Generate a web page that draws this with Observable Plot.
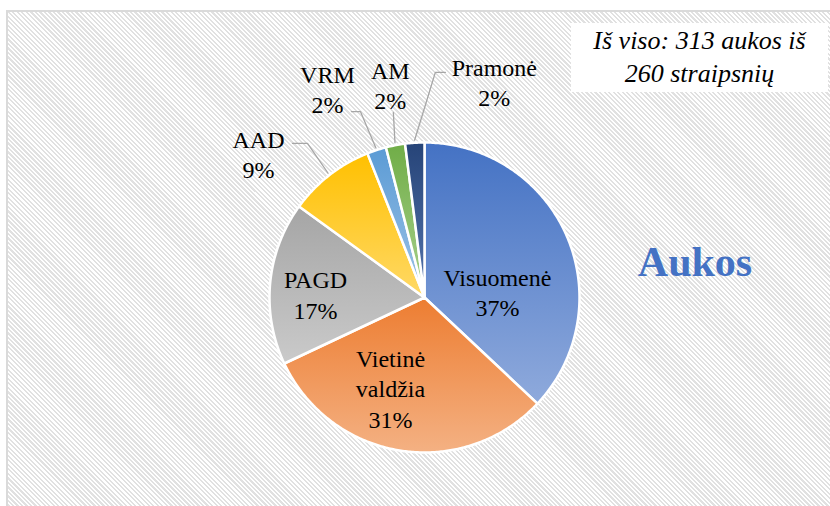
<!DOCTYPE html>
<html>
<head>
<meta charset="utf-8">
<script src="https://cdn.jsdelivr.net/npm/d3@7"></script>
<script src="https://cdn.jsdelivr.net/npm/@observablehq/plot@0.6"></script>
<style>
html,body{margin:0;padding:0;background:#fff;}
#wrap{position:relative;width:830px;height:506px;overflow:hidden;}
#bg{position:absolute;left:6px;top:10px;width:840px;height:510px;border-left:2px solid #dadada;border-top:2px solid #dadada;
  background:repeating-linear-gradient(45deg,#ffffff 0 1.6px,#e1e1e1 1.6px 3.2px);}
#chart{position:absolute;left:0;top:0;}
#box{position:absolute;left:571px;top:23px;width:257px;height:69px;background:#fff;box-sizing:border-box;padding-top:1px;
  font-family:'Liberation Serif',serif;font-style:italic;font-size:26px;line-height:33px;text-align:center;color:#000;}
#title{position:absolute;left:595px;top:241px;width:200px;text-align:center;
  font-family:'Liberation Serif',serif;font-weight:bold;font-size:42px;line-height:42px;color:#4472C4;}
svg text{font-family:'Liberation Serif',serif;}
</style>
</head>
<body>
<svg width="0" height="0" style="position:absolute"><defs id="grads"></defs></svg>
<div id="wrap">
  <div id="bg"></div>
  <div id="chart"></div>
  <div id="box"></div>
  <div id="title"></div>
</div>
<script>
// ---- data ----
const categories = ["Visuomenė", "Vietinė valdžia", "PAGD", "AAD", "VRM", "AM", "Pramonė"];
const shares = [37, 31, 17, 9, 2, 2, 2];
const chartTitle = "Aukos";
const totalVictims = 313;
const totalArticles = 260;

// ---- styles ----
const colorTop = ["#4472C4", "#ED7D31", "#A5A5A5", "#FFC000", "#5B9BD5", "#70AD47", "#264478"];
const colorBottom = ["#8FAADC", "#F4B183", "#CACACA", "#FFD966", "#9DC3E6", "#A9D18E", "#5575AD"];

// ---- layout ----
const W = 830, H = 506, CX = 424, CY = 297, RPX = 156;
const labelAngle = [85.3, 200.7, 271.9, 311.0, 335.1, 350.9, 17.9];   // degrees clockwise from 12 o'clock
const labelRadius = [0.469, 0.617, 0.699, 1.41, 1.478, 1.384, 1.457]; // in pie radii
// leader lines (px offsets from label centre): [startDx, startDy, elbowDx, elbowDy]
const leaderOffsets = [null, null, null, [34, -9.8, 49, -9.8], [24, 23.2, 33, 23.2], [3, 28.2, 3, 28.2], [-49, -8.8, -59, -8.8]];

// gradients
const defs = document.getElementById("grads");
defs.innerHTML = colorTop.map((c, i) =>
  `<linearGradient id="g${i}" x1="0" y1="0" x2="0" y2="1"><stop offset="0" stop-color="${c}"/><stop offset="1" stop-color="${colorBottom[i]}"/></linearGradient>`
).join("");

const arcs = d3.pie().sort(null).value(d => d)(shares);
const rr = 155 / RPX;
const polar = (a, r) => [r * Math.sin(a), r * Math.cos(a)];
const deg = Math.PI / 180;

const sliceMarks = arcs.map((a, i) => {
  const pts = [[0, 0]];
  const n = Math.max(2, Math.ceil((a.endAngle - a.startAngle) / 0.01));
  for (let k = 0; k <= n; k++) {
    const t = a.startAngle + (a.endAngle - a.startAngle) * k / n;
    pts.push(polar(t, rr));
  }
  pts.push([0, 0]);
  return Plot.line(pts, {x: d => d[0], y: d => d[1], fill: `url(#g${i})`, stroke: "white", strokeWidth: 2.5, strokeLinejoin: "round", curve: "linear"});
});

const labels = categories.map((c, i) => {
  const [x, y] = polar(labelAngle[i] * deg, labelRadius[i]);
  const name = c.replace(" ", "\n");
  return {x, y, text: `${name}\n${shares[i]}%`};
});

const leaders = [];
arcs.forEach((a, i) => {
  const o = leaderOffsets[i];
  if (!o) return;
  const L = labels[i];
  const mid = (a.startAngle + a.endAngle) / 2;
  const [ex, ey] = polar(mid, 1.01);
  leaders.push({k: i, x: L.x + o[0] / RPX, y: L.y - o[1] / RPX});
  leaders.push({k: i, x: L.x + o[2] / RPX, y: L.y - o[3] / RPX});
  leaders.push({k: i, x: ex, y: ey});
});

const chart = Plot.plot({
  width: W, height: H, margin: 0,
  style: {background: "none", overflow: "visible", fontFamily: "'Liberation Serif', serif"},
  x: {domain: [-CX / RPX, (W - CX) / RPX], axis: null},
  y: {domain: [(CY - H) / RPX, CY / RPX], axis: null},
  marks: [
    ...sliceMarks,
    Plot.line(leaders, {x: "x", y: "y", z: "k", stroke: "#a6a6a6", strokeWidth: 1.3}),
    Plot.text(labels, {x: "x", y: "y", text: "text", fontSize: 24, lineHeight: 1.27,
      fontFamily: "'Liberation Serif', serif", fill: "#000"})
  ]
});
document.getElementById("chart").appendChild(chart);
document.getElementById("box").innerHTML = `Iš viso: ${totalVictims} aukos iš<br>${totalArticles} straipsnių`;
document.getElementById("title").textContent = chartTitle;
</script>
</body>
</html>
